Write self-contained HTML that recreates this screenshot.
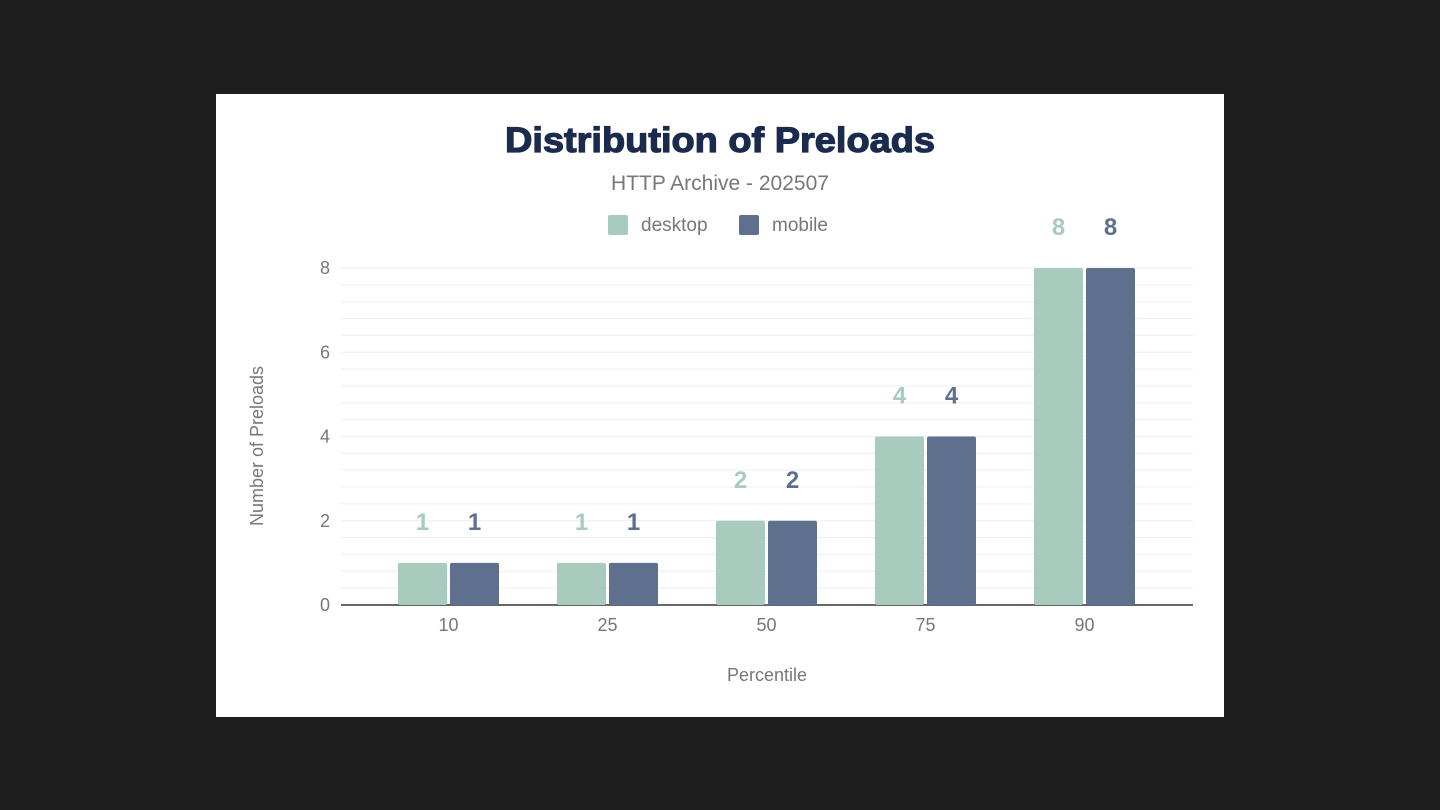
<!DOCTYPE html>
<html><head><meta charset="utf-8"><style>
body{margin:0;background:#1e1e1e;width:1440px;height:810px;overflow:hidden;font-family:"Liberation Sans",sans-serif}
#card{position:absolute;left:216px;top:94px;width:1008px;height:623px;background:#fff}
</style></head><body>
<div id="card">
<svg id="svg" width="1008" height="623" viewBox="216 94 1008 623">
<text x="720" y="152" text-anchor="middle" font-size="35" font-weight="bold" fill="#1a2b4d" stroke="#1a2b4d" stroke-width="1.2" textLength="430" lengthAdjust="spacingAndGlyphs">Distribution of Preloads</text>
<text x="720" y="190" text-anchor="middle" font-size="21" fill="#777">HTTP Archive - 202507</text>
<g>
<rect x="608" y="215" width="20" height="20" rx="2" fill="#a8cbbd"/>
<text x="641" y="231" font-size="19" fill="#777">desktop</text>
<rect x="739" y="215" width="20" height="20" rx="2" fill="#5f708e"/>
<text x="772" y="231" font-size="19" fill="#777">mobile</text>
</g>
<text transform="translate(263,446) rotate(-90)" text-anchor="middle" font-size="18" fill="#777">Number of Preloads</text>
<text x="767" y="681" text-anchor="middle" font-size="18" fill="#777">Percentile</text>
<g id="grid"></g><g id="bars"></g><g id="labels"></g>
</svg></div>
<script>
const categories=["10","25","50","75","90"];
const desktop=[1,1,2,4,8];
const mobile=[1,1,2,4,8];
const yTicks=[0,2,4,6,8];
const NS="http://www.w3.org/2000/svg";
const x0=341,x1=1193,yBase=605,yTop=268,yMax=8;
const y=v=>yBase-(v/yMax)*(yBase-yTop);
const band=159;
const cx=i=>(x0+x1)/2-0.5+band*(i-(categories.length-1)/2);
function mk(t,a,p){const e=document.createElementNS(NS,t);for(const k in a)e.setAttribute(k,a[k]);p.appendChild(e);return e;}
const grid=document.getElementById('grid'),bars=document.getElementById('bars'),labels=document.getElementById('labels');
for(let v=0.4;v<yMax+0.01;v+=0.4){
 const l=mk('line',{x1:x0,x2:x1,y1:y(v),y2:y(v),stroke:'#f0f0f0','stroke-width':1.2},grid);
 
 
}
yTicks.forEach(v=>{
 const t=mk('text',{x:330,y:y(v)+6,'text-anchor':'end','font-size':18,fill:'#777'},grid);t.textContent=v;
 
 
});
const ax=mk('line',{x1:x0,x2:x1,y1:yBase,y2:yBase,stroke:'#333','stroke-width':1.5},grid);


const bw=49,gap=3;
categories.forEach((c,i)=>{
 const t=mk('text',{x:cx(i),y:631,'text-anchor':'middle','font-size':18,fill:'#777'},labels);t.textContent=c;
 
 
 [[desktop,'#a8cbbd',-1,'desktop'],[mobile,'#5f708e',1,'mobile']].forEach(([arr,col,s,n])=>{
  const bx=s<0?cx(i)-gap/2-bw:cx(i)+gap/2;
  const r=mk('rect',{x:bx,y:y(arr[i]),width:bw,height:yBase-y(arr[i]),fill:col,rx:2},bars);
  
  
  const lt=mk('text',{x:bx+bw/2,y:y(arr[i])-33,'text-anchor':'middle','font-size':24,'font-weight':'bold',fill:col},labels);
  lt.textContent=arr[i];
  
  
 });
});
</script>
</body></html>
